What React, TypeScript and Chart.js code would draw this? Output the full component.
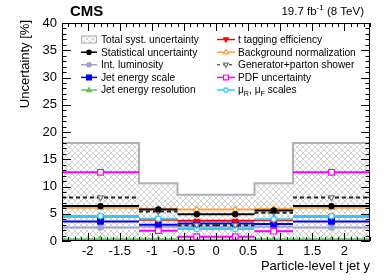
import { useEffect, useRef } from 'react';
import { Chart, registerables } from 'chart.js';
Chart.register(...registerables);

const binEdges = [-2.4, -1.2, -0.6, 0, 0.6, 1.2, 2.4];
const totalSyst = [18, 10.6, 8.5, 8.5, 10.6, 18];
const statUnc = [6.4, 5.8, 4.9, 4.9, 5.6, 6.4];
const lumiUnc = [2.5, 2.6, 2.6, 2.6, 2.6, 2.5];
const jesUnc = [3.6, 3.0, 3.2, 3.2, 3.1, 3.6];
const jerUnc = [0.3, 0.3, 0.25, 0.25, 0.3, 0.3];
const ttagUnc = [4.5, 3.9, 3.7, 3.7, 3.8, 4.5];
const bkgUnc = [6.1, 5.9, 5.8, 5.8, 5.9, 6.1];
const genUnc = [8.0, 5.4, 2.9, 2.9, 5.2, 8.0];
const pdfUnc = [12.6, 1.9, 0.8, 0.8, 1.8, 12.6];
const scaleUnc = [4.6, 4.1, 2.2, 2.2, 4.0, 4.6];

const xTicks = [-2, -1.5, -1, -0.5, 0, 0.5, 1, 1.5, 2];
const yTicks = [0, 5, 10, 15, 20, 25, 30, 35, 40];

const FONT = '"Liberation Sans", Arial, Helvetica, sans-serif';

type Series = {
  key: string;
  vals: number[];
  color: string;
  markerColor?: string;
  style: 'circle' | 'rect' | 'triangle';
  down?: boolean;
  filled: boolean;
  radius: number;
  dash?: number[];
};

const series: Series[] = [
  { key: 'lumi', vals: lumiUnc, color: '#a0a0cc', style: 'circle', filled: true, radius: 2.6 },
  { key: 'jer', vals: jerUnc, color: '#55c855', style: 'triangle', filled: true, radius: 3 },
  { key: 'jes', vals: jesUnc, color: '#0000ff', style: 'rect', filled: true, radius: 4 },
  { key: 'ttag', vals: ttagUnc, color: '#ff0000', style: 'triangle', down: true, filled: true, radius: 3 },
  { key: 'scale', vals: scaleUnc, color: '#33ccee', style: 'circle', filled: false, radius: 2.6 },
  { key: 'gen', vals: genUnc, color: '#222222', markerColor: '#777777', style: 'triangle', down: true, filled: false, radius: 3.2, dash: [4, 3] },
  { key: 'bkg', vals: bkgUnc, color: '#ff9f40', style: 'triangle', filled: false, radius: 3.2 },
  { key: 'pdf', vals: pdfUnc, color: '#ff00ff', style: 'rect', filled: false, radius: 4 },
  { key: 'stat', vals: statUnc, color: '#000000', style: 'circle', filled: true, radius: 2.6 },
];

type LegendItem = {
  parts: { t: string; sub?: boolean; sup?: boolean }[];
  key: string;
};

const legendCol1: LegendItem[] = [
  { key: 'total', parts: [{ t: 'Total syst. uncertainty' }] },
  { key: 'stat', parts: [{ t: 'Statistical uncertainty' }] },
  { key: 'lumi', parts: [{ t: 'Int. luminosity' }] },
  { key: 'jes', parts: [{ t: 'Jet energy scale' }] },
  { key: 'jer', parts: [{ t: 'Jet energy resolution' }] },
];
const legendCol2: LegendItem[] = [
  { key: 'ttag', parts: [{ t: 't tagging efficiency' }] },
  { key: 'bkg', parts: [{ t: 'Background normalization' }] },
  { key: 'gen', parts: [{ t: 'Generator+parton shower' }] },
  { key: 'pdf', parts: [{ t: 'PDF uncertainty' }] },
  { key: 'scale', parts: [{ t: 'μ' }, { t: 'R', sub: true }, { t: ', μ' }, { t: 'F', sub: true }, { t: ' scales' }] },
];

function segData(vals: number[]) {
  const out: { x: number; y: number | null }[] = [];
  vals.forEach((v, i) => {
    const lo = binEdges[i];
    const hi = binEdges[i + 1];
    out.push({ x: lo, y: v }, { x: (lo + hi) / 2, y: v }, { x: hi, y: v }, { x: hi, y: null });
  });
  return out;
}

function makePattern(): CanvasPattern | string {
  const c = document.createElement('canvas');
  c.width = 6;
  c.height = 6;
  const g = c.getContext('2d');
  if (!g) return '#ddd';
  g.fillStyle = '#ffffff';
  g.fillRect(0, 0, 6, 6);
  g.strokeStyle = '#d2d2d2';
  g.lineWidth = 1;
  g.beginPath();
  g.moveTo(0, 0);
  g.lineTo(6, 6);
  g.moveTo(6, 0);
  g.lineTo(0, 6);
  g.stroke();
  const p = g.createPattern(c, 'repeat');
  return p || '#ddd';
}

function drawRich(ctx: CanvasRenderingContext2D, x: number, y: number, parts: LegendItem['parts'], size: number, align: 'left' | 'right') {
  const widths = parts.map((p) => {
    ctx.font = `${p.sub || p.sup ? size * 0.7 : size}px ${FONT}`;
    return ctx.measureText(p.t).width;
  });
  const total = widths.reduce((a, b) => a + b, 0);
  let cx = align === 'left' ? x : x - total;
  ctx.textAlign = 'left';
  ctx.textBaseline = 'middle';
  parts.forEach((p, i) => {
    ctx.font = `${p.sub || p.sup ? size * 0.7 : size}px ${FONT}`;
    const dy = p.sub ? size * 0.3 : p.sup ? -size * 0.35 : 0;
    ctx.fillText(p.t, cx, y + dy);
    cx += widths[i];
  });
}

function drawMarker(ctx: CanvasRenderingContext2D, s: Series, x: number, y: number) {
  ctx.save();
  ctx.setLineDash([]);
  ctx.lineWidth = 1.2;
  const mc = s.markerColor || s.color;
  ctx.strokeStyle = mc;
  ctx.fillStyle = s.filled ? mc : '#ffffff';
  ctx.beginPath();
  const r = s.radius * 0.85;
  if (s.style === 'circle') {
    ctx.arc(x, y, r, 0, Math.PI * 2);
  } else if (s.style === 'rect') {
    const h = r * Math.SQRT1_2;
    ctx.rect(x - h, y - h, 2 * h, 2 * h);
  } else {
    const d = s.down ? -1 : 1;
    ctx.moveTo(x, y - d * r);
    ctx.lineTo(x + r * 0.9, y + d * r * 0.6);
    ctx.lineTo(x - r * 0.9, y + d * r * 0.6);
    ctx.closePath();
  }
  ctx.fill();
  ctx.stroke();
  ctx.restore();
}

export default function App() {
  const ref = useRef<HTMLCanvasElement | null>(null);

  useEffect(() => {
    document.body.style.margin = '0';
    const canvas = ref.current;
    if (!canvas) return;
    const pattern = makePattern();

    const totalData = binEdges.map((e, i) => ({ x: e, y: totalSyst[Math.min(i, totalSyst.length - 1)] }));

    const datasets: any[] = [
      {
        label: 'total',
        order: 100,
        data: totalData,
        stepped: 'before',
        fill: 'origin',
        backgroundColor: pattern,
        borderColor: '#b0b0b0',
        borderWidth: 2,
        pointRadius: 0,
      },
      ...series.map((s, idx) => ({
        label: s.key,
        order: series.length - idx,
        data: segData(s.vals),
        borderColor: s.color,
        borderWidth: 2,
        borderDash: s.dash || [],
        spanGaps: false,
        fill: false,
        pointStyle: s.style,
        rotation: s.down ? 180 : 0,
        pointRadius: (c: any) => (c.dataIndex % 4 === 1 ? s.radius : 0),
        pointBorderWidth: 1.2,
        pointBorderColor: s.markerColor || s.color,
        pointBackgroundColor: s.filled ? s.markerColor || s.color : '#ffffff',
      })),
    ];

    const seriesByKey: Record<string, Series> = {};
    series.forEach((s) => (seriesByKey[s.key] = s));

    const decor = {
      id: 'decor',
      afterDraw(chart: any) {
        const ctx: CanvasRenderingContext2D = chart.ctx;
        const { left, right, top, bottom } = chart.chartArea;
        const xs = chart.scales.x;
        const ys = chart.scales.y;
        ctx.save();
        ctx.setLineDash([]);
        ctx.strokeStyle = '#000';
        ctx.lineWidth = 1;
        for (let i = -24; i <= 24; i++) {
          const v = i / 10;
          const px = Math.round(xs.getPixelForValue(v)) + 0.5;
          const major = i % 5 === 0;
          const len = major ? 8 : 4;
          ctx.beginPath();
          ctx.moveTo(px, bottom);
          ctx.lineTo(px, bottom - len);
          ctx.moveTo(px, top);
          ctx.lineTo(px, top + len);
          ctx.stroke();
        }
        for (let v = 0; v <= 40; v++) {
          const py = Math.round(ys.getPixelForValue(v)) + 0.5;
          const major = v % 5 === 0;
          const len = major ? 9 : 4.5;
          ctx.beginPath();
          ctx.moveTo(left, py);
          ctx.lineTo(left + len, py);
          ctx.moveTo(right, py);
          ctx.lineTo(right - len, py);
          ctx.stroke();
        }
        ctx.strokeRect(Math.round(left) + 0.5, Math.round(top) + 0.5, Math.round(right - left) - 1, Math.round(bottom - top) - 1);

        ctx.fillStyle = '#000';
        ctx.font = `bold 15px ${FONT}`;
        ctx.textAlign = 'left';
        ctx.textBaseline = 'middle';
        ctx.fillText('CMS', 70, 12);
        drawRich(ctx, 364, 12, [{ t: '19.7 fb' }, { t: '-1', sup: true }, { t: ' (8 TeV)' }], 11.5, 'right');

        ctx.font = `13px ${FONT}`;
        ctx.textAlign = 'right';
        ctx.textBaseline = 'middle';
        ctx.fillText('Particle-level t jet y', 370, 266);
        ctx.save();
        ctx.translate(25, 20);
        ctx.rotate(-Math.PI / 2);
        ctx.fillText('Uncertainty [%]', 0, 0);
        ctx.restore();

        const rows = [39.5, 52.2, 64.8, 77.4, 90];
        const drawCol = (items: LegendItem[], x0: number, x1: number, tx: number) => {
          items.forEach((it, i) => {
            const y = rows[i];
            if (it.key === 'total') {
              ctx.fillStyle = pattern as any;
              ctx.fillRect(x0, y - 4, x1 - x0, 8);
              ctx.strokeStyle = '#b0b0b0';
              ctx.lineWidth = 1;
              ctx.strokeRect(x0 + 0.5, y - 3.5, x1 - x0 - 1, 7);
            } else {
              const s = seriesByKey[it.key];
              ctx.save();
              ctx.strokeStyle = s.color;
              ctx.lineWidth = s.dash ? 1 : 1.5;
              ctx.setLineDash(s.dash ? [3, 3] : []);
              ctx.beginPath();
              ctx.moveTo(x0, y);
              ctx.lineTo(x1, y);
              ctx.stroke();
              ctx.restore();
              drawMarker(ctx, s, (x0 + x1) / 2, y);
            }
            ctx.fillStyle = '#000';
            drawRich(ctx, tx, y + 0.5, it.parts, 10.2, 'left');
          });
        };
        drawCol(legendCol1, 81, 97, 101);
        drawCol(legendCol2, 217, 235, 238);
        ctx.restore();
      },
    };

    const chart = new Chart(canvas, {
      type: 'line',
      data: { datasets },
      options: {
        animation: false,
        responsive: false,
        maintainAspectRatio: false,
        layout: { padding: { top: 23, right: 20, left: 0, bottom: 0 } },
        plugins: { legend: { display: false }, tooltip: { enabled: false } },
        scales: {
          x: {
            type: 'linear',
            min: -2.4,
            max: 2.4,
            grid: { display: false, drawTicks: false },
            border: { display: false },
            afterBuildTicks: (s: any) => {
              s.ticks = xTicks.map((v) => ({ value: v }));
            },
            afterFit: (s: any) => {
              s.height = 39;
            },
            ticks: {
              maxRotation: 0,
              autoSkip: false,
              padding: 3,
              color: '#000',
              font: { family: FONT, size: 13 },
              callback: (v: any) => String(v),
            },
          },
          y: {
            type: 'linear',
            min: 0,
            max: 40,
            grid: { display: false, drawTicks: false },
            border: { display: false },
            afterBuildTicks: (s: any) => {
              s.ticks = yTicks.map((v) => ({ value: v }));
            },
            afterFit: (s: any) => {
              s.width = 62;
            },
            ticks: {
              padding: 5,
              color: '#000',
              font: { family: FONT, size: 13 },
              callback: (v: any) => String(v),
            },
          },
        },
      },
      plugins: [decor],
    } as any);

    return () => chart.destroy();
  }, []);

  return (
    <div style={{ position: 'absolute', left: 0, top: 0, width: 390, height: 280, background: '#fff' }}>
      <canvas ref={ref} width={390} height={280} style={{ display: 'block' }} />
    </div>
  );
}
